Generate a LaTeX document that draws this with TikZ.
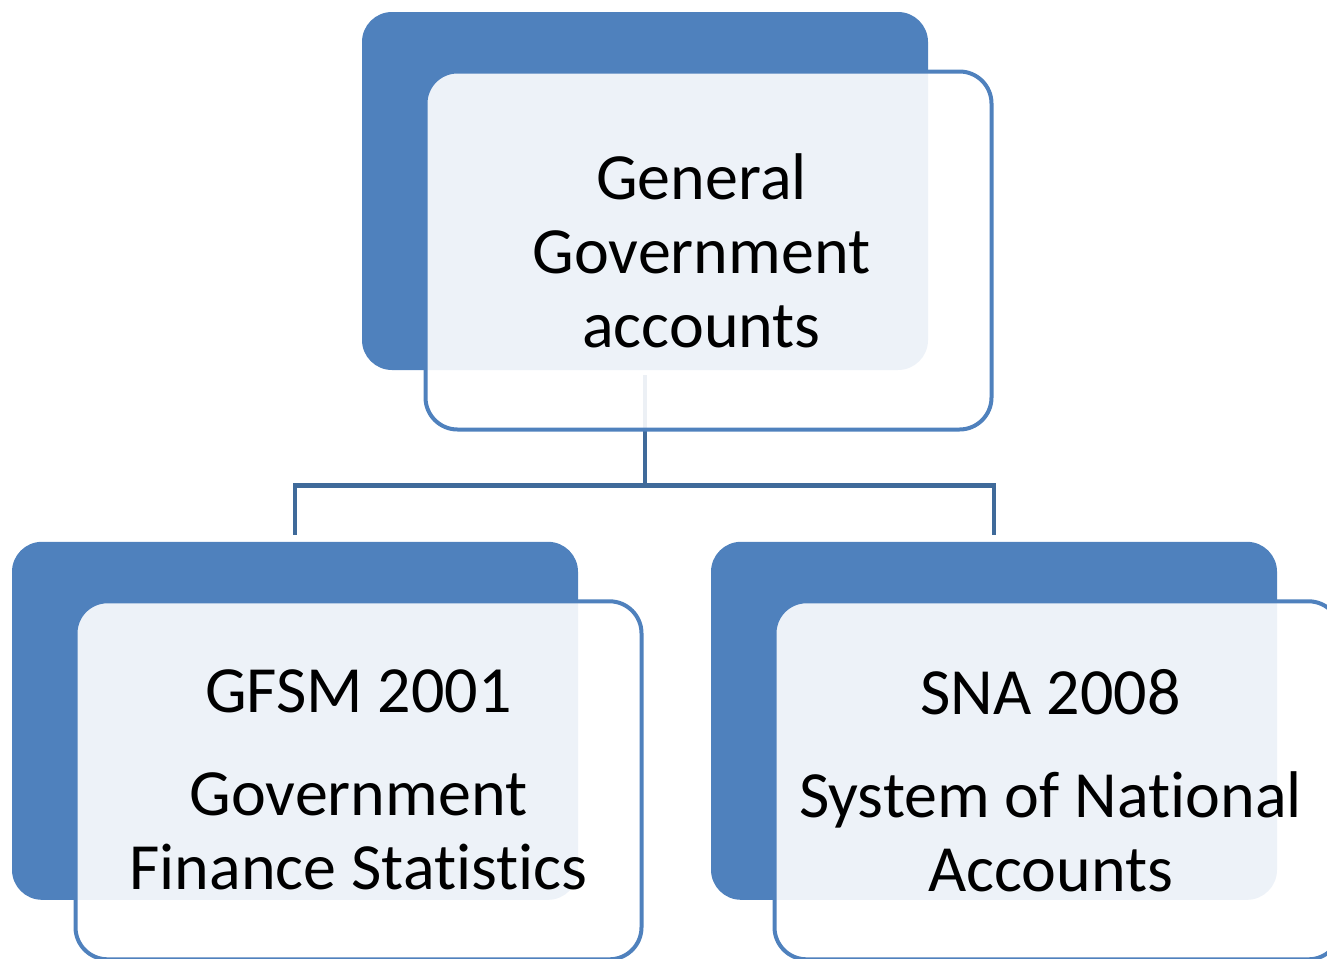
\documentclass[tikz,border=0pt]{standalone}
\usepackage{fontspec}
\setmainfont{Carlito}[Ligatures=NoCommon]
\usepackage{tikz}
\usetikzlibrary{positioning}
\definecolor{boxblue}{RGB}{79,129,189}
\definecolor{linkblue}{RGB}{63,106,154}

\begin{document}
\begin{tikzpicture}[
    back/.style={rectangle,rounded corners=15pt,fill=boxblue,
        minimum width=283pt,minimum height=179pt,inner sep=0pt},
    front/.style={rectangle,rounded corners=16pt,draw=boxblue,line width=2pt,
        fill=white,fill opacity=0.9,
        minimum width=283pt,minimum height=179pt,inner sep=0pt,
        xshift=31.75pt,yshift=-29.75pt},
    caption/.style={align=center,text opacity=1,fill opacity=0,
        font=\fontsize{33pt}{37pt}\selectfont},
    link/.style={draw=linkblue,line width=2.25pt}
    ]

\useasboundingbox (0pt,0pt) rectangle (663.5pt,-479pt);
\clip (0pt,0pt) rectangle (663.5pt,-479pt);

\node[back] (gga) at (322.5pt,-95.5pt) {};
\node[back,below=85.5pt of gga,xshift=-175pt] (gfsm) {};
\node[back,below=85.5pt of gga,xshift=174.5pt] (sna) {};

\draw[link] ([yshift=-2.5pt]gga.south) -- ([yshift=-57.5pt]gga.south) coordinate (fork);
\draw[link] (fork) -| ([yshift=3pt]gfsm.north);
\draw[link] (fork) -| ([yshift=3pt]sna.north);

\node[front,label={[caption,xshift=-3.5pt]center:General\\Government\\accounts}] (ggaText) at (gga) {};
\node[front,label={[caption]center:GFSM 2001\\[14.5pt]Government\\Finance Statistics}] (gfsmText) at (gfsm) {};
\node[front,label={[caption,xshift=-3.5pt]center:SNA 2008\\[14.5pt]System of National\\Accounts}] (snaText) at (sna) {};

\end{tikzpicture}
\end{document}
